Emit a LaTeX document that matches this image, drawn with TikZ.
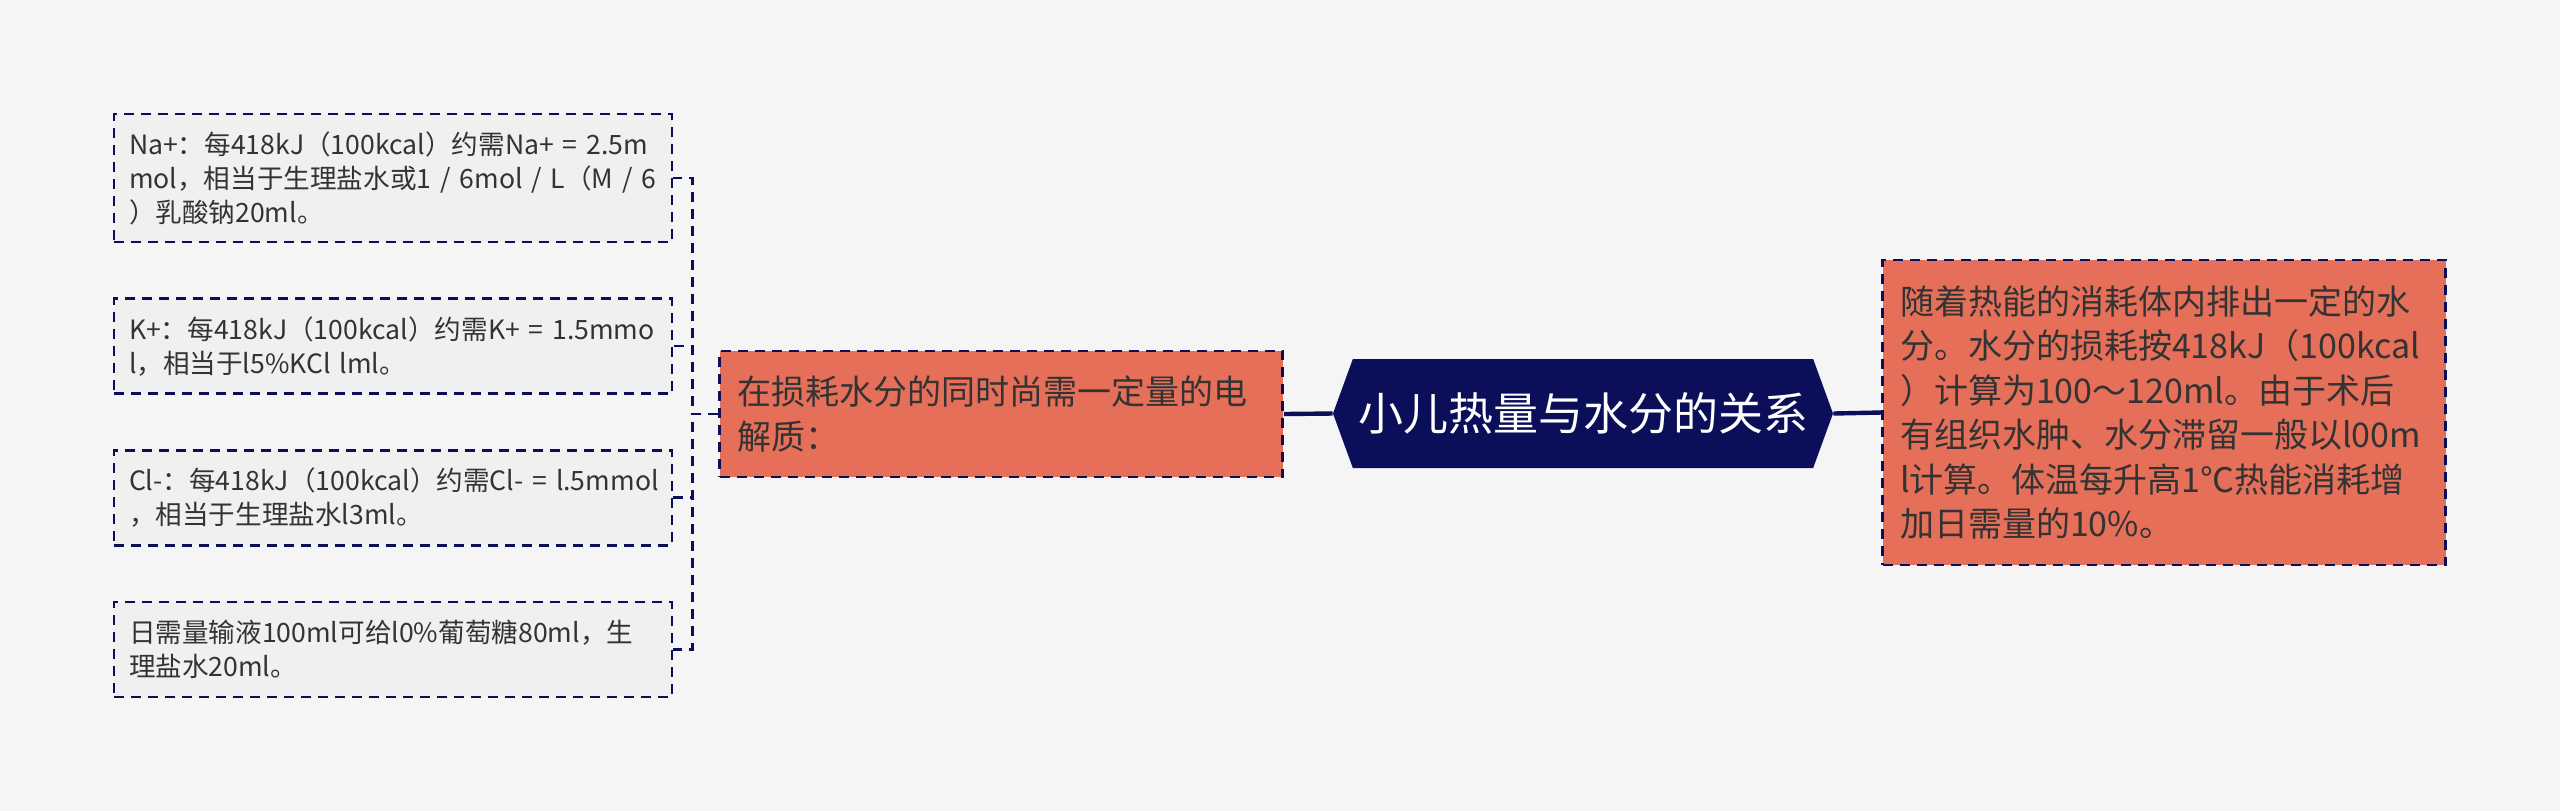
\documentclass[tikz,border=0pt]{standalone}
\usepackage{fontspec}
\setmainfont{Noto Sans CJK SC}
\usepackage{tikz}
\usetikzlibrary{positioning, shapes.symbols}

\definecolor{bgcol}{HTML}{F5F5F5}
\definecolor{leafcol}{HTML}{F0F0F0}
\definecolor{navy}{HTML}{0B0F5A}
\definecolor{coral}{HTML}{E56F59}
\definecolor{inkcol}{HTML}{333333}

\begin{document}
\begin{tikzpicture}[
    x=0.5pt, y=-0.5pt,
    node distance=27pt,
    leaf/.style={rectangle, draw=navy, fill=leafcol, line width=1.3pt, dash pattern=on 5pt off 3.5pt, text width=264pt, inner xsep=7.5pt, inner ysep=5pt, minimum height=47.5pt, align=left, text=inkcol, font=\fontsize{13.3pt}{17pt}\selectfont},
    topic/.style={rectangle, draw=navy, fill=coral, line width=1.3pt, dash pattern=on 5pt off 3.5pt, text width=264pt, inner xsep=8.75pt, inner ysep=6pt, align=left, text=inkcol, font=\fontsize{17pt}{22.2pt}\selectfont},
    title/.style={signal, signal to=west and east, signal pointer angle=140, fill=navy, text=white, minimum width=250pt, minimum height=54.5pt, inner xsep=2pt, font=\fontsize{22.5pt}{27pt}\selectfont},
    link/.style={draw=navy, line width=2.2pt},
    branch/.style={draw=navy, line width=1.3pt, dash pattern=on 5pt off 3.5pt}
]

% canvas
\fill[bgcol] (0,0) rectangle (2560,811);

\node[title] (root) at (1583,413.5) {小儿热量与水分的关系};
\node[topic, minimum height=63pt] (mid) at (1001,414) {在损耗水分的同时尚需一定量的电\\解质：};
\node[topic, minimum height=152.5pt] (note) at (2164,412.5) {随着热能的消耗体内排出一定的水\\分。水分的损耗按418kJ（100kcal\\）计算为100～120ml。由于术后\\有组织水肿、水分滞留一般以l00m\\l计算。体温每升高1℃热能消耗增\\加日需量的10\%。};

\node[leaf, minimum height=64pt] (na) at (393,178) {Na+：每418kJ（100kcal）约需Na+~=~2.5m\\mol，相当于生理盐水或1~/~6mol~/~L（M~/~6\\）乳酸钠20ml。};
\node[leaf, below=of na] (k) {K+：每418kJ（100kcal）约需K+~=~1.5mmo\\l，相当于l5\%KCl~lml。};
\node[leaf, below=of k] (cl) {\mbox{Cl-：每418kJ（100kcal）约需Cl-~=~l.5mmol}\\，相当于生理盐水l3ml。};
\node[leaf, below=of cl] (glu) {日需量输液100ml可给l0\%葡萄糖80ml，生\\理盐水20ml。};

\draw[link] (mid.east) -- (root.west);
\draw[link] (root.east) -- (note.west);

\draw[branch] (mid.west) -- ++(-26,0) |- (na.east);
\draw[branch] (mid.west) -- ++(-26,0) |- (k.east);
\draw[branch] (mid.west) -- ++(-26,0) |- (cl.east);
\draw[branch] (mid.west) -- ++(-26,0) |- (glu.east);

\end{tikzpicture}
\end{document}
